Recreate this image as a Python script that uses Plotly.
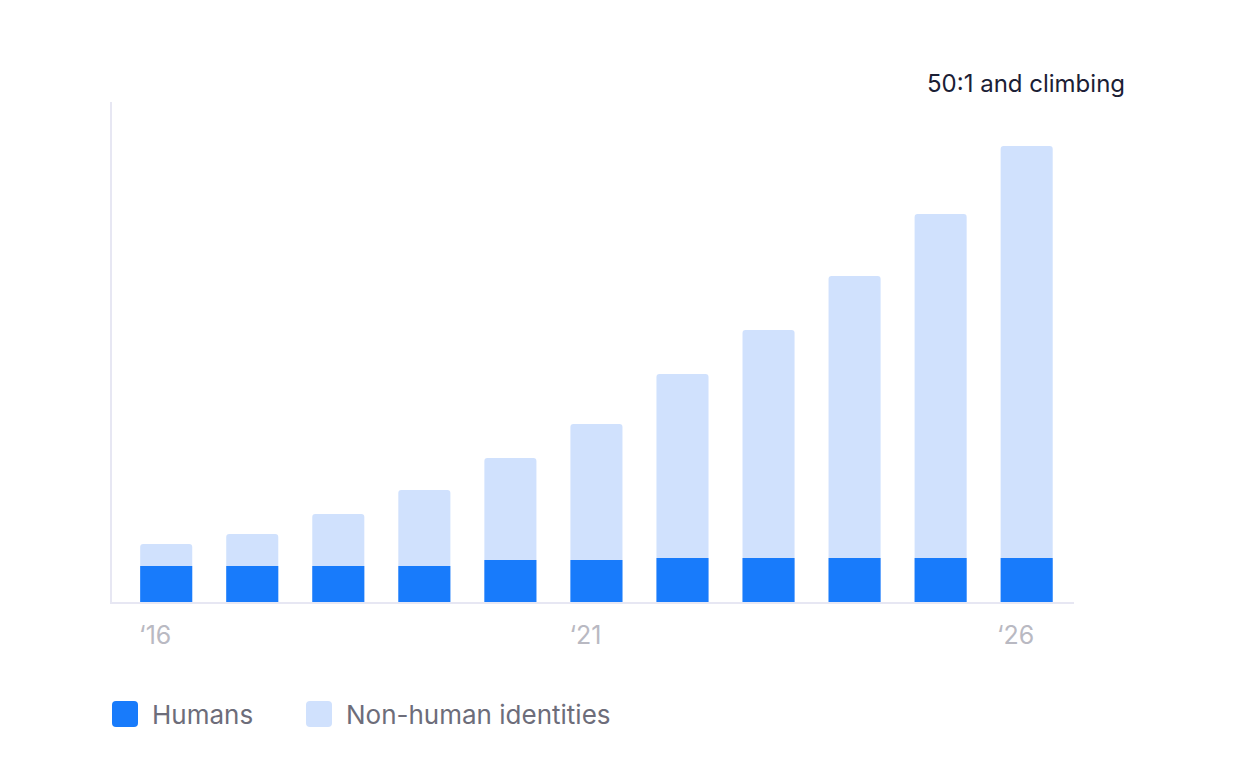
import plotly.graph_objects as go

# values (relative units)
years = [2016, 2017, 2018, 2019, 2020, 2021, 2022, 2023, 2024, 2025, 2026]
humans = [36, 36, 36, 36, 42, 42, 44, 44, 44, 44, 44]
non_human = [22, 32, 52, 76, 102, 136, 184, 228, 282, 344, 412]
tick_years = [2016, 2021, 2026]
tick_text = ["‘16", "‘21", "‘26"]
series_names = ["Humans", "Non-human identities"]

BLUE = "#187bfb"
LIGHT = "#d0e1fd"
AXIS = "#e7e7f3"
FONT = "Inter, Noto Sans, sans-serif"

totals = [h + n for h, n in zip(humans, non_human)]


def swatch_path(dx, dy, w=26, r=4):
    # rounded square in pixels, offset from the plot's bottom-left corner
    x0, x1, y0, y1 = dx, dx + w, dy, dy + w
    return (f"M{x0 + r},{y0} H{x1 - r} Q{x1},{y0} {x1},{y0 + r} "
            f"V{y1 - r} Q{x1},{y1} {x1 - r},{y1} H{x0 + r} "
            f"Q{x0},{y1} {x0},{y1 - r} V{y0 + r} Q{x0},{y0} {x0 + r},{y0} Z")


def build_figure():
    fig = go.Figure()
    # light bar drawn to the stack total, dark bar laid over it
    fig.add_trace(go.Bar(x=years, y=totals, name=series_names[1],
                         marker=dict(color=LIGHT, line=dict(width=0)),
                         showlegend=False, hoverinfo="skip"))
    fig.add_trace(go.Bar(x=years, y=humans, name=series_names[0],
                         marker=dict(color=BLUE, line=dict(width=0)),
                         showlegend=False, hoverinfo="skip"))

    fig.update_layout(
        width=1256, height=772,
        margin=dict(l=104, r=190, t=94, b=178),
        paper_bgcolor="white", plot_bgcolor="white",
        barmode="overlay", bargap=0.395, barcornerradius=3,
        font=dict(family=FONT),
        showlegend=False,
    )
    fig.update_xaxes(range=[2016 - 0.63, 2026 + 0.55],
                     tickvals=tick_years, ticktext=tick_text,
                     tickfont=dict(size=25, color="#b9b9c2"),
                     ticklabelshift=-11, ticklabelstandoff=10,
                     showgrid=False, zeroline=False,
                     showline=True, linecolor=AXIS, linewidth=2)
    fig.update_yaxes(range=[0, 500], showticklabels=False,
                     showgrid=False, zeroline=False,
                     showline=True, linecolor=AXIS, linewidth=2)

    fig.add_annotation(text="50:1 and climbing", xref="paper", yref="paper",
                       x=1.055, y=1.0, xanchor="right", yanchor="bottom",
                       yshift=2, showarrow=False,
                       font=dict(size=24, color="#1b2035"))

    # legend: swatch + label, placed in pixels below the plot area
    for name, color, dx in zip(series_names, [BLUE, LIGHT], [0, 194]):
        fig.add_shape(type="path", xref="paper", yref="paper",
                      xsizemode="pixel", ysizemode="pixel",
                      xanchor=0, yanchor=0,
                      path=swatch_path(dx, -125),
                      fillcolor=color, line=dict(width=0))
        fig.add_annotation(text=name, xref="paper", yref="paper",
                           x=0, y=0, xanchor="left", yanchor="middle",
                           xshift=dx + 38, yshift=-112, showarrow=False,
                           font=dict(size=26, color="#6d6d7a"))
    return fig


def main():
    fig = build_figure()
    fig.write_html("out.html")


if __name__ == "__main__":
    main()
